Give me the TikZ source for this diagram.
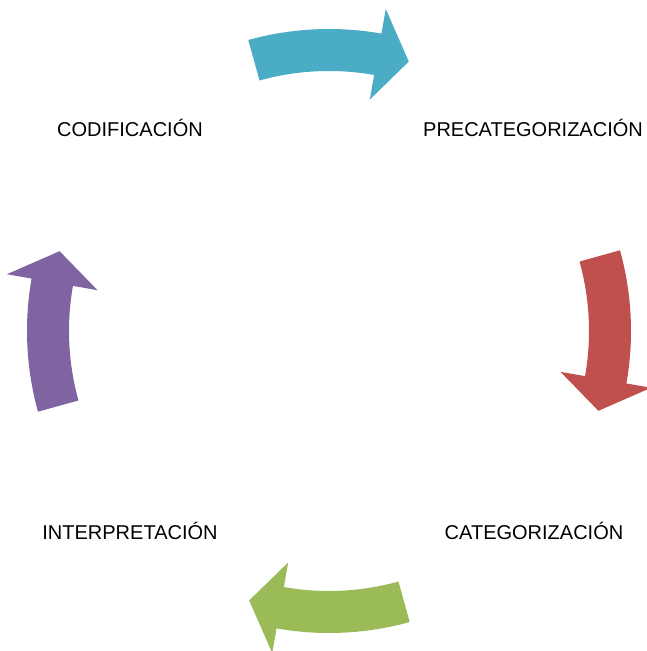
\documentclass[tikz,border=0pt]{standalone}
\usepackage{fontspec}
\setmainfont{Liberation Sans}

\definecolor{cycleblue}{HTML}{4BACC6}
\definecolor{cyclered}{HTML}{C0504D}
\definecolor{cyclegreen}{HTML}{9BBB59}
\definecolor{cyclepurple}{HTML}{8064A2}

\begin{document}
\begin{tikzpicture}[
    x=1pt,y=1pt,
    steplabel/.style={
      font=\fontsize{20}{24}\selectfont,
      inner sep=0pt,anchor=base
    },
    cyclearrow/.style={
      fill=#1,draw=none
    }]
      \def\cycleradius{281}

      \useasboundingbox (-329,-320) rectangle (317,331);

      % arrows round the cycle, clockwise
      \foreach \ang/\col in {90/cycleblue,0/cyclered,-90/cyclegreen,180/cyclepurple} {
        \fill[cyclearrow=\col]
          (\ang+15.5:\cycleradius+21)
            arc[start angle=\ang+15.5,end angle=\ang-10,radius=\cycleradius+21]
          -- (\ang-10:\cycleradius+46)
          -- (\ang-16.5:\cycleradius)
          -- (\ang-10:\cycleradius-46)
          -- (\ang-10:\cycleradius-21)
            arc[start angle=\ang-10,end angle=\ang+15.5,radius=\cycleradius-21]
          -- cycle;
      }

      \node[steplabel] (codif) at (-199,194) {CODIFICACIÓN};
      \node[steplabel] (precat) at (204,194) {PRECATEGORIZACIÓN};
      \node[steplabel] (categ) at (205,-208) {CATEGORIZACIÓN};
      \node[steplabel] (interp) at (-199,-208) {INTERPRETACIÓN};
  \end{tikzpicture}
\end{document}
